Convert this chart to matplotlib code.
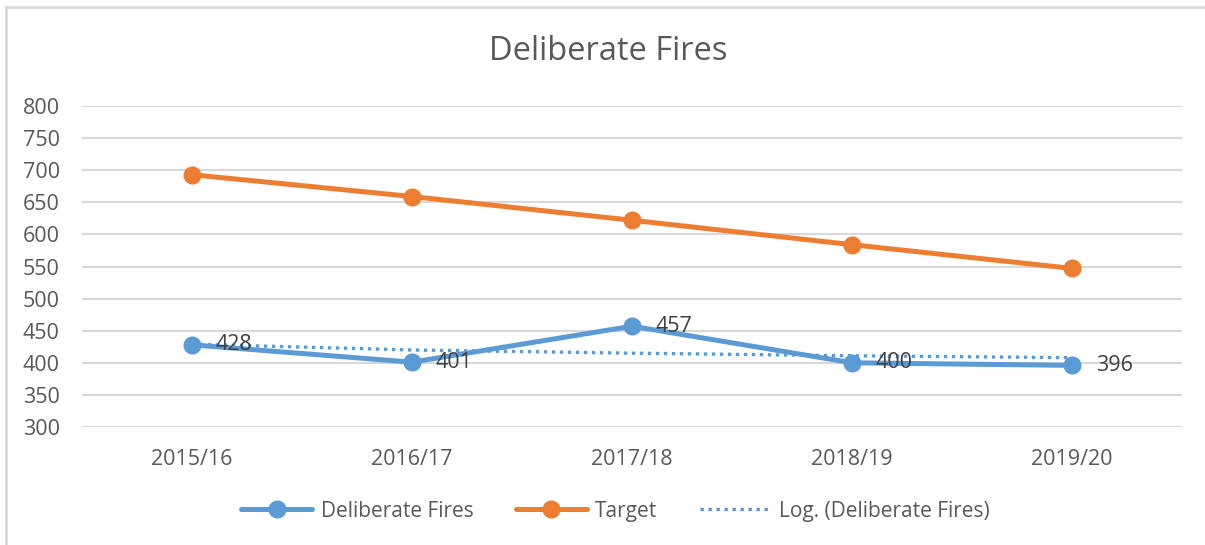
import matplotlib
matplotlib.use("Agg")
import matplotlib.pyplot as plt
from matplotlib.patches import Rectangle

# data
years = ["2015/16", "2016/17", "2017/18", "2018/19", "2019/20"]
fires = [428, 401, 457, 400, 396]
target = [693, 659, 622, 584, 547]
fires_trend = [429, 420, 415, 411, 408]   # Excel log trendline as drawn
yticks = list(range(300, 801, 50))

BLUE = "#5b9bd5"
ORANGE = "#ed7d31"
GREY_TXT = "#595959"
GRID = "#d9d9d9"

plt.rcParams["font.family"] = ["Open Sans", "DejaVu Sans"]

fig = plt.figure(figsize=(12.05, 5.45), dpi=100)
ax = fig.add_axes([0.068, 0.2165, 0.913, 0.589])

# chart frame (right/bottom edges are cut off in the reference)
fig.patches.append(Rectangle((6 / 1205, -0.1), 1.2, 1 - 7 / 545 + 0.1,
                             transform=fig.transFigure, fill=False,
                             edgecolor=GRID, lw=2))

x = list(range(len(years)))
ax.plot(x, fires, color=BLUE, lw=3.6, marker="o", ms=12, label="Deliberate Fires",
        solid_capstyle="round", zorder=3)
ax.plot(x, target, color=ORANGE, lw=3.6, marker="o", ms=12, label="Target",
        solid_capstyle="round", zorder=3)
ax.plot(x, fires_trend, color=BLUE, lw=2.4, ls=(0, (1, 1.4)),
        label="Log. (Deliberate Fires)", zorder=2)

for xi, v in zip(x, fires):
    ax.annotate(str(v), (xi, v), xytext=(17, 0), textcoords="offset points",
                ha="left", va="center", fontsize=15.5, color="#404040", zorder=4)

ax.set_xlim(-0.5, len(years) - 0.5)
ax.set_ylim(300, 800)
ax.set_yticks(yticks)
ax.set_xticks(x)
ax.set_xticklabels(years)
ax.grid(axis="y", color=GRID, lw=1.5)
ax.set_axisbelow(True)
for s in ax.spines.values():
    s.set_visible(False)
ax.tick_params(length=0, labelsize=15.5, colors=GREY_TXT)
ax.tick_params(axis="x", pad=16)
ax.tick_params(axis="y", pad=16)

fig.text(0.505, 0.905, "Deliberate Fires", ha="center", va="center",
         fontsize=23.5, color=GREY_TXT)

leg = fig.legend(loc="center", bbox_to_anchor=(0.511, 0.062), ncol=3,
                 frameon=False, fontsize=15, handlelength=3.4,
                 handletextpad=0.4, columnspacing=2.05)
for t in leg.get_texts():
    t.set_color(GREY_TXT)

plt.savefig("out.png", dpi=100)
plt.close()
